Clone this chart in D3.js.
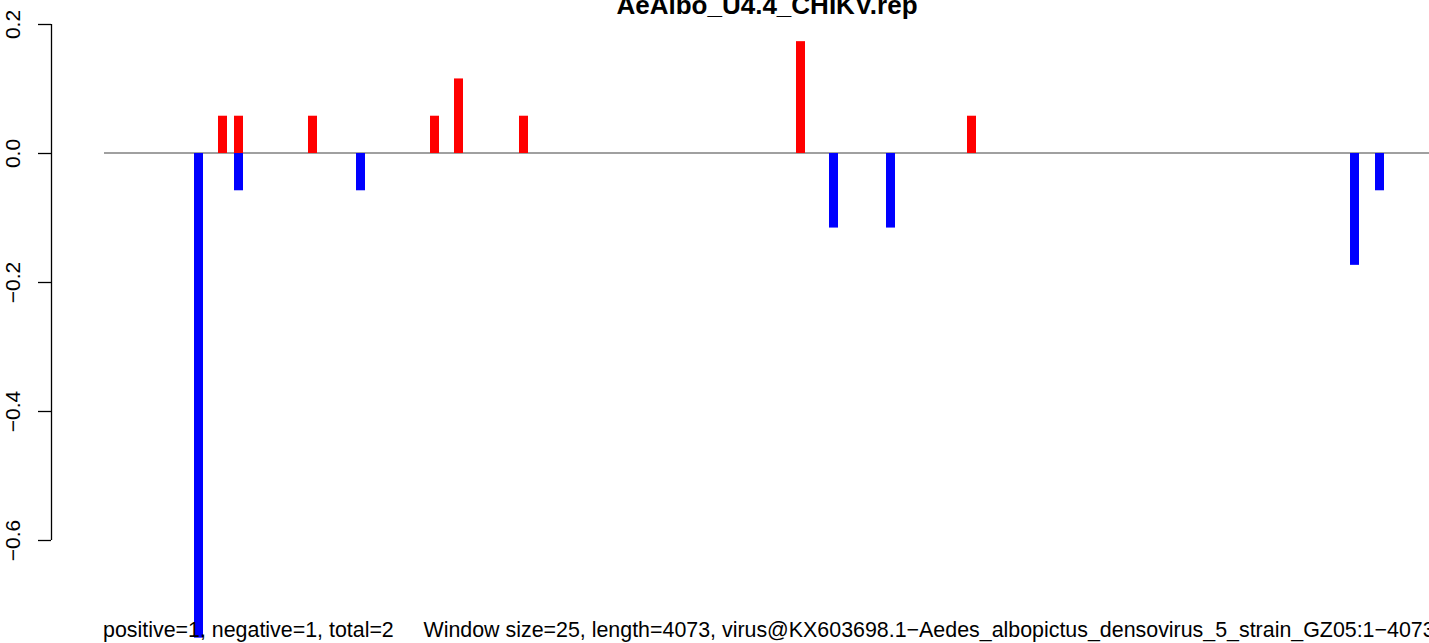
<!DOCTYPE html>
<html>
<head>
<meta charset="utf-8">
<script src="https://cdn.jsdelivr.net/npm/d3@7"></script>
<style>
  html, body { margin: 0; padding: 0; background: #fff; overflow: hidden; }
  svg { display: block; font-family: "Liberation Sans", Arial, Helvetica, sans-serif; }
</style>
</head>
<body>
<svg id="chart" width="1429" height="643"></svg>
<script>
// ---- data ----
const seqLength = 4073;
const windowSize = 25;
const redStarts = [350, 400, 625, 1000, 1075, 1275, 2125, 2650];
const redValues = [0.0578, 0.0578, 0.0578, 0.0578, 0.1156, 0.0578, 0.1734, 0.0578];
const blueStarts = [275, 400, 775, 2225, 2400, 3825, 3900];
const blueValues = [-0.7514, -0.0578, -0.0578, -0.1156, -0.1156, -0.1734, -0.0578];
const yTicks = [0.2, 0.0, -0.2, -0.4, -0.6];
const yTickLabels = ["0.2", "0.0", "\u22120.2", "\u22120.4", "\u22120.6"];
const titleText = "AeAlbo_U4.4_CHIKV.rep";
const footerText = "positive=1, negative=1, total=2     Window size=25, length=4073, virus@KX603698.1\u2212Aedes_albopictus_densovirus_5_strain_GZ05:1\u22124073";

// ---- layout ----
const svg = d3.select("#chart");
const W = 1429, H = 643;
svg.append("rect").attr("width", W).attr("height", H).attr("fill", "#fff");

const x = d3.scaleLinear().domain([0, seqLength]).range([104, 1431]);
const y = d3.scaleLinear().domain([-0.6, 0.2]).range([540, 24]);
const barW = 9;

// zero line
svg.append("line")
  .attr("x1", x(0)).attr("x2", x(seqLength))
  .attr("y1", y(0)).attr("y2", y(0))
  .attr("stroke", "#808080").attr("stroke-width", 1.5);

const bars = svg.append("g");
const redData = redStarts.map((s, i) => ({ s, v: redValues[i] }));
const blueData = blueStarts.map((s, i) => ({ s, v: blueValues[i] }));

bars.selectAll("rect.red").data(redData).join("rect")
  .attr("class", "red")
  .attr("x", d => Math.round(x(d.s)))
  .attr("width", barW)
  .attr("y", d => y(d.v))
  .attr("height", d => y(0) - y(d.v))
  .attr("fill", "#ff0000");

bars.selectAll("rect.blue").data(blueData).join("rect")
  .attr("class", "blue")
  .attr("x", d => Math.round(x(d.s)))
  .attr("width", barW)
  .attr("y", y(0))
  .attr("height", d => y(d.v) - y(0))
  .attr("fill", "#0000ff");

// y axis
const axisX = 51;
const yAxis = d3.axisLeft(y)
  .tickValues(yTicks)
  .tickSize(13)
  .tickPadding(0)
  .tickFormat((d, i) => yTickLabels[i]);
const gAxis = svg.append("g")
  .attr("transform", `translate(${axisX},0)`)
  .call(yAxis);
gAxis.select(".domain")
  .attr("d", `M0.5,${y(0.2)}V${y(-0.6)}`)
  .attr("stroke", "#000").attr("stroke-width", 1.3);
gAxis.selectAll(".tick line").attr("stroke", "#000").attr("stroke-width", 1.3);
gAxis.selectAll(".tick text")
  .attr("x", null).attr("dy", null)
  .attr("transform", "translate(-31,0) rotate(-90)")
  .attr("text-anchor", "middle")
  .attr("font-size", 21)
  .attr("font-family", "'Liberation Sans', Arial, sans-serif")
  .attr("fill", "#000");

// title
svg.append("text")
  .attr("x", 767).attr("y", 14)
  .attr("text-anchor", "middle")
  .attr("font-size", 26)
  .attr("font-weight", "bold")
  .attr("fill", "#000")
  .text(titleText);

// footer
svg.append("text")
  .attr("x", 103).attr("y", 637)
  .attr("font-size", 21.4)
  .attr("fill", "#000")
  .style("white-space", "pre")
  .attr("xml:space", "preserve")
  .text(footerText);
</script>
</body>
</html>
